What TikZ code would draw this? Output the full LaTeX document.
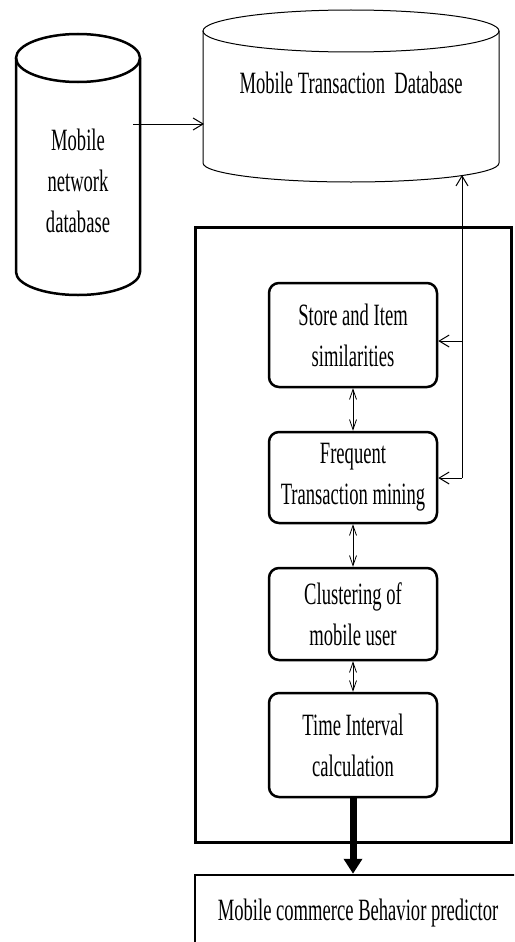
\documentclass[tikz,border=0pt]{standalone}
\usepackage{fontspec}
\setmainfont[FakeStretch=0.6]{Liberation Serif}
\usetikzlibrary{arrows.meta}

\tikzset{
  box/.style={draw, line width=2.5pt, rounded corners=10pt, minimum width=168pt, align=center},
  tip/.style={line width=1pt, -{Straight Barb[length=10pt,width=12pt]}},
  dtip/.style={line width=0.8pt, {Straight Barb[length=10pt,width=7pt]}-{Straight Barb[length=10pt,width=7pt]}},
}

\begin{document}
\begin{tikzpicture}[x=1pt, y=-1pt, font=\fontsize{31}{41}\selectfont]
  \useasboundingbox (0,0) rectangle (514,942);
  \clip (0,0) rectangle (514,942);

  % mobile network database
  \draw[line width=2.5pt] (78,58) ellipse [x radius=62pt, y radius=24pt];
  \draw[line width=2.5pt] (16,58) -- (16,272)
    arc [start angle=180, end angle=360, x radius=62pt, y radius=23pt] -- (140,58);
  \node[align=center] (N) at (78,181) {Mobile\\network\\database};

  % mobile transaction database
  \draw[line width=1pt] (351,31) ellipse [x radius=148pt, y radius=21pt];
  \draw[line width=1pt] (203,31) -- (203,163)
    arc [start angle=180, end angle=360, x radius=148pt, y radius=19pt] -- (499,31);
  \node (T) at (351,83) {Mobile Transaction\ \ Database};

  \coordinate (n) at (133,124);
  \coordinate (t) at (204,124);
  \coordinate (tb) at (462,175);
  \draw[tip] (n) -- (t);

  \draw[line width=3pt] (195,227) rectangle (511,842);

  \node[box, minimum height=104pt] (S) at (353,335) {Store and Item\\similarities};
  \node[box, minimum height=91pt] (F) at (353,477.5) {Frequent\\Transaction mining};
  \node[box, minimum height=92pt] (C) at (353,614) {Clustering of\\mobile user};
  \node[box, minimum height=104pt] (I) at (353,745) {Time Interval\\calculation};

  \node[draw, line width=2.5pt, minimum width=326pt, minimum height=76pt] (P) at (358,913)
    {Mobile commerce Behavior predictor};

  \draw[dtip] (S) -- (F);
  \draw[dtip] (F) -- (C);
  \draw[dtip] (C) -- (I);

  \coordinate (j1) at (462,341);
  \coordinate (j2) at (462,478);
  \draw[tip] (j2) -- (tb);
  \draw[tip] (j1) -- (j1 -| S.east);
  \draw[tip] (j2) -- (j2 -| F.east);

  \draw[line width=7pt, -{Triangle[length=15pt,width=18pt]}] (I.south) -- (I.south |- P.north);
\end{tikzpicture}
\end{document}
